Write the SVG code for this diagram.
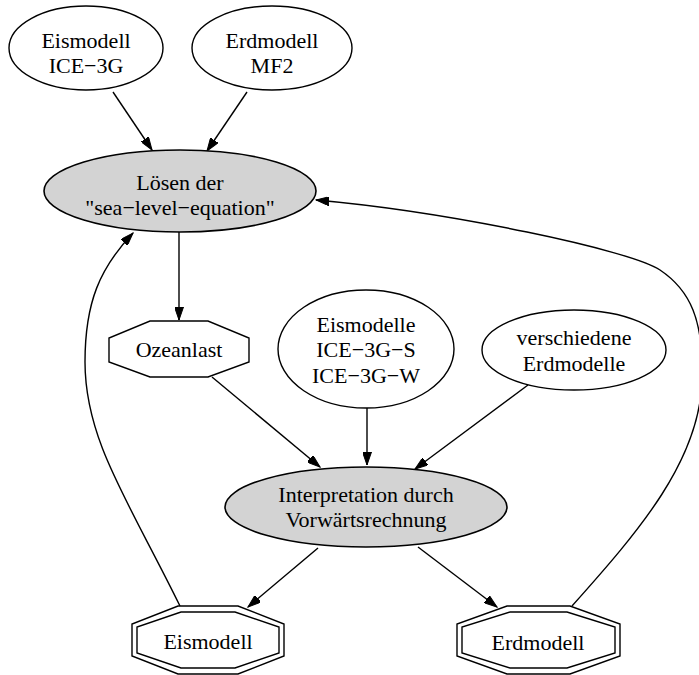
<svg xmlns="http://www.w3.org/2000/svg" width="699" height="675" viewBox="0 0 699 675">
<style>
  .n { fill: #ffffff; stroke: #000; stroke-width: 1.4; }
  .g { fill: #d3d3d3; stroke: #000; stroke-width: 1.6; }
  .t { font-family: "Liberation Serif", "Times New Roman", serif; font-size: 22px; text-anchor: middle; fill: #000; }
  .e { fill: none; stroke: #000; stroke-width: 1.4; marker-end: url(#arr); }
</style>
<defs>
  <marker id="arr" markerUnits="userSpaceOnUse" markerWidth="14" markerHeight="9" refX="13" refY="4.5" orient="auto">
    <path d="M0,0 L13,4.5 L0,9 z" fill="#000" stroke="#000" stroke-width="1"/>
  </marker>
</defs>
<rect width="699" height="675" fill="#fff"/>

<g id="edges">
  <path class="e" d="M113,92 L152,150"/>
  <path class="e" d="M247,92 L207,151"/>
  <path class="e" d="M179,232 L179,320"/>
  <path class="e" d="M212,377 L320,467"/>
  <path class="e" d="M367,408 L367,465"/>
  <path class="e" d="M528,385 L415,469"/>
  <path class="e" d="M318,548 L248,607"/>
  <path class="e" d="M418,547 L497,607"/>
  <path class="e" d="M180,606 C128,500 85,440 85,362 C85,302 100,268 133,233"/>
  <path class="e" d="M572,606 C640,530 700,460 702,380 C704,320 690,290 660,270 C630,250 450,212 316,200"/>
</g>

<g id="n_eismodell_ice3g">
  <ellipse class="n" cx="86" cy="48" rx="77" ry="42"/>
  <text class="t" x="86" y="48">Eismodell</text>
  <text class="t" x="86" y="73">ICE−3G</text>
</g>
<g id="n_erdmodell_mf2">
  <ellipse class="n" cx="272" cy="48" rx="80" ry="42"/>
  <text class="t" x="272" y="48">Erdmodell</text>
  <text class="t" x="272" y="73">MF2</text>
</g>
<g id="n_loesen">
  <ellipse class="g" cx="180" cy="191" rx="136" ry="41"/>
  <text class="t" x="180" y="190">Lösen der</text>
  <text class="t" x="180" y="215">"sea−level−equation"</text>
</g>
<g id="n_ozeanlast">
  <polygon class="n" points="150,321 208,321 249,338 249,362 208,377 150,377 109,362 109,338"/>
  <text class="t" x="179" y="357">Ozeanlast</text>
</g>
<g id="n_eismodelle">
  <ellipse class="n" cx="366" cy="349" rx="88" ry="59"/>
  <text class="t" x="366" y="332">Eismodelle</text>
  <text class="t" x="366" y="357">ICE−3G−S</text>
  <text class="t" x="366" y="383">ICE−3G−W</text>
</g>
<g id="n_verschiedene">
  <ellipse class="n" cx="574" cy="350" rx="92" ry="40"/>
  <text class="t" x="574" y="345">verschiedene</text>
  <text class="t" x="574" y="371">Erdmodelle</text>
</g>
<g id="n_interpretation">
  <ellipse class="g" cx="366" cy="507" rx="141" ry="40"/>
  <text class="t" x="366" y="502">Interpretation durch</text>
  <text class="t" x="366" y="527">Vorwärtsrechnung</text>
</g>
<g id="n_eismodell_out">
  <polygon class="n" points="178,606 238,606 284,624 284,656 238,674 178,674 132,656 132,624"/>
  <polygon class="n" points="181,612 235,612 279,627 279,653 235,668 181,668 137,653 137,627"/>
  <text class="t" x="208" y="649">Eismodell</text>
</g>
<g id="n_erdmodell_out">
  <polygon class="n" points="507,606 570,606 620,624 620,656 570,674 507,674 457,656 457,624"/>
  <polygon class="n" points="510,612 567,612 615,627 615,653 567,668 510,668 462,653 462,627"/>
  <text class="t" x="538" y="650">Erdmodell</text>
</g>
</svg>
